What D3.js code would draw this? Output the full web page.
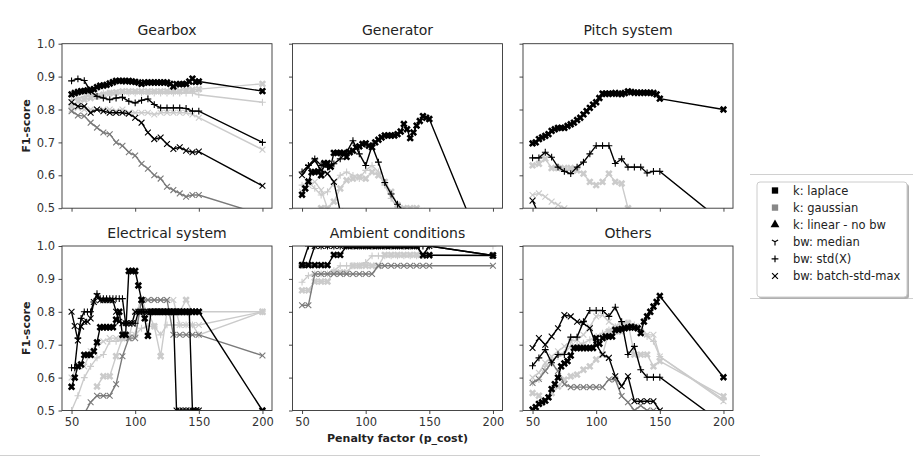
<!DOCTYPE html>
<html><head><meta charset="utf-8">
<script src="https://cdn.jsdelivr.net/npm/d3@7"></script>
<style>body{margin:0;background:#fff;} svg{display:block;font-family:"DejaVu Sans",sans-serif;}</style>
</head><body><svg id="c" width="913" height="462"></svg>
<script>
// ---------- data ----------
const X5 = [50,55,60,65,70,75,80,85,90,95,100,105,110,115,120,125,130,135,140,145,150,200];
const X25 = [50,52.5,55,57.5,60,62.5,65,67.5,70,72.5,75,77.5,80,82.5,85,87.5,90,92.5,95,97.5,100,102.5,105,107.5,110,112.5,115,117.5,120,122.5,125,127.5,130,132.5,135,137.5,140,142.5,145,147.5,150,200];
const categories = ["Gearbox","Generator","Pitch system","Electrical system","Ambient conditions","Others"];
const xTicks = [50,100,150,200];
const yTicks = [0.5,0.6,0.7,0.8,0.9,1.0];
const legendLabels = ["k: laplace","k: gaussian","k: linear - no bw","bw: median","bw: std(X)","bw: batch-std-max"];

// Gearbox
const gearboxLaplace = [0.846,0.85,0.853,0.856,0.856,0.858,0.86,0.862,0.868,0.872,0.873,0.875,0.879,0.883,0.887,0.887,0.887,0.886,0.887,0.885,0.884,0.882,0.878,0.882,0.882,0.882,0.882,0.882,0.882,0.882,0.882,0.878,0.87,0.877,0.877,0.877,0.878,0.885,0.894,0.884,0.885,0.856];
const gearboxBlackStd = [0.887,0.893,0.888,0.855,0.84,0.835,0.83,0.835,0.837,0.825,0.82,0.828,0.832,0.815,0.805,0.805,0.805,0.805,0.803,0.795,0.795,0.70];
const gearboxBlackBatch = [0.822,0.81,0.81,0.79,0.80,0.795,0.79,0.79,0.79,0.787,0.775,0.76,0.73,0.71,0.715,0.695,0.68,0.685,0.675,0.67,0.672,0.568];
const gearboxGrayBatch = [0.795,0.782,0.78,0.76,0.745,0.73,0.725,0.70,0.69,0.67,0.66,0.635,0.62,0.60,0.59,0.565,0.555,0.545,0.535,0.54,0.54,0.48];
const gearboxLightX = [0.81,0.825,0.83,0.835,0.84,0.845,0.85,0.852,0.855,0.855,0.855,0.855,0.855,0.855,0.855,0.855,0.855,0.855,0.858,0.86,0.862,0.878];
const gearboxLightStd = [0.83,0.835,0.84,0.845,0.845,0.85,0.85,0.85,0.85,0.85,0.85,0.85,0.848,0.85,0.85,0.85,0.85,0.85,0.85,0.85,0.845,0.822];
const gearboxLightBatch = [0.80,0.805,0.80,0.80,0.80,0.80,0.80,0.795,0.80,0.79,0.79,0.79,0.79,0.785,0.79,0.79,0.79,0.79,0.79,0.785,0.775,0.678];

// Generator
const generatorLaplace = [0.541,0.56,0.581,0.609,0.61,0.612,0.60,0.637,0.637,0.626,0.668,0.668,0.668,0.668,0.656,0.67,0.675,0.685,0.688,0.695,0.697,0.69,0.685,0.70,0.708,0.715,0.721,0.721,0.721,0.721,0.725,0.733,0.756,0.74,0.713,0.73,0.751,0.765,0.78,0.775,0.771,0.30];
const generatorBlackStd = [0.61,0.63,0.65,0.63,0.625,0.635,0.65,0.67,0.705,0.665,0.63,0.69,0.64,0.578,0.543,0.512,0.49,0.47,0.45,0.43,0.42,0.30];
const generatorBlackBatch = [0.60,0.625,0.645,0.615,0.605,0.58,0.49,0.45,null,null,null,null,null,null,null,null,null,null,null,null,null,null];
const generatorLightX = [null,null,0.48,0.50,0.50,0.52,0.56,0.585,0.59,0.595,0.59,0.61,0.60,0.58,0.55,0.51,0.50,0.50,0.50,0.49,null,null];
const generatorLightStd = [0.57,0.58,0.56,0.54,0.55,0.575,0.60,0.61,0.60,0.59,0.615,0.63,0.61,0.57,0.53,0.50,0.47,null,null,null,null,null];
const generatorLightBatch = [0.55,0.57,0.58,0.555,0.50,0.48,null,null,null,null,null,null,null,null,null,null,null,null,null,null,null,null];

// Pitch system
const pitchLaplace = [0.697,0.70,0.71,0.715,0.72,0.725,0.735,0.74,0.744,0.744,0.744,0.75,0.755,0.76,0.768,0.775,0.785,0.795,0.805,0.815,0.822,0.835,0.848,0.848,0.848,0.848,0.85,0.848,0.847,0.85,0.855,0.853,0.851,0.851,0.851,0.851,0.851,0.851,0.85,0.846,0.833,0.80];
const pitchBlackStd = [0.653,0.653,0.67,0.655,0.625,0.612,0.605,0.625,0.64,0.665,0.69,0.69,0.69,0.636,0.65,0.625,0.625,0.625,0.607,0.612,0.612,0.456];
const pitchBlackBatch = [0.523,0.48,null,null,null,null,null,null,null,null,null,null,null,null,null,null,null,null,null,null,null,null];
const pitchLightX = [0.63,0.635,0.65,0.622,0.622,0.622,0.622,0.615,0.605,0.58,0.57,0.58,0.605,0.58,0.575,0.50,0.45,null,null,null,null,null];
const pitchLightBatch = [0.54,0.545,0.535,0.52,0.51,0.50,0.48,null,null,null,null,null,null,null,null,null,null,null,null,null,null,null];

// Electrical system
const electricalLaplace = [0.572,0.60,0.634,0.64,0.669,0.669,0.669,0.68,0.707,0.753,0.753,0.753,0.753,0.753,0.776,0.80,0.73,0.73,0.924,0.924,0.924,0.88,0.836,0.78,0.727,0.80,0.80,0.80,0.80,0.80,0.80,0.80,0.80,0.80,0.80,0.80,0.80,0.80,0.80,0.80,0.80,0.50];
const electricalBlackStd = [0.63,0.63,0.72,0.78,0.80,0.80,0.80,0.83,0.855,0.84,0.84,0.84,0.84,0.84,0.84,0.84,0.84,0.765,0.765,0.765,0.765,0.80,0.80,0.80,0.80,0.80,0.80,0.80,0.80,0.80,0.80,0.80,0.80,0.80,0.80,0.80,0.80,0.80,0.50,0.50,0.50,null];
const electricalBlackBatch = [0.80,0.757,0.713,0.755,0.77,0.77,0.78,0.83,0.848,0.835,0.835,0.835,0.835,0.835,0.80,0.77,0.765,0.765,0.765,0.765,0.80,0.80,0.80,0.80,0.80,0.80,0.80,0.80,0.80,0.80,0.80,0.80,0.80,0.50,0.50,0.50,0.50,0.50,0.50,0.50,0.50,null];
const electricalGrayBatch = [null,null,0.49,0.525,0.545,0.545,0.545,0.58,0.665,0.72,0.72,0.836,0.836,0.836,0.836,0.836,0.73,0.73,0.73,0.73,0.73,0.667];
const electricalLightX = [null,null,null,null,0.573,0.604,0.604,0.665,0.72,0.72,0.80,0.826,0.80,0.756,0.665,0.80,0.80,0.80,0.836,0.80,0.80,0.80];
const electricalLightStd = [0.50,0.545,0.60,0.634,0.66,0.67,0.71,0.71,0.72,0.73,0.73,0.75,0.756,0.756,0.73,0.76,0.76,0.76,0.76,0.76,0.73,0.80];
const electricalLightBatch = [0.60,0.64,0.634,0.68,0.70,0.71,0.72,0.72,0.72,0.73,0.73,0.836,0.836,0.836,0.836,0.836,0.836,0.76,0.76,0.76,0.76,0.80];

// Ambient conditions
const ambientLaplace = [0.942,0.942,0.942,0.942,0.942,0.973,0.973,1.0,1.0,1.0,1.0,1.0,1.0,1.0,1.0,1.0,1.0,1.0,1.0,0.972,0.972,0.971];
const ambientBlackStd = [0.942,1.0,1.0,1.0,1.0,1.0,1.0,1.0,1.0,1.0,1.0,1.0,1.0,1.0,1.0,1.0,1.0,1.0,1.0,1.0,1.0,0.971];
const ambientBlackBatch = [0.942,0.942,1.0,1.0,1.0,1.0,1.0,1.0,1.0,1.0,1.0,1.0,1.0,1.0,1.0,1.0,1.0,1.0,1.0,0.972,1.0,0.971];
const ambientGrayBatch = [0.82,0.82,0.915,0.915,0.915,0.915,0.915,0.915,0.915,0.915,0.915,0.915,0.94,0.94,0.94,0.94,0.94,0.94,0.94,0.94,0.94,0.94];
const ambientLightX = [0.865,0.865,0.892,0.892,0.892,0.92,0.92,0.92,0.94,0.94,0.94,0.94,0.94,0.973,0.973,0.973,0.973,0.973,0.973,0.973,0.973,0.973];
const ambientLightStd = [0.89,0.91,0.915,0.915,0.915,0.925,0.94,0.94,0.94,0.94,0.95,0.97,0.97,0.97,0.97,0.97,0.97,0.97,0.97,0.97,1.0,1.0];

// Others
const othersLaplace = [0.503,0.51,0.52,0.525,0.53,0.54,0.565,0.58,0.60,0.634,0.643,0.65,0.667,0.69,0.69,0.69,0.69,0.69,0.69,0.69,0.72,0.703,0.72,0.725,0.725,0.725,0.745,0.745,0.748,0.75,0.752,0.755,0.752,0.75,0.735,0.77,0.786,0.80,0.816,0.83,0.848,0.601];
const othersBlackStd = [0.636,0.66,0.685,0.645,0.67,0.67,0.723,0.723,0.77,0.804,0.804,0.804,0.786,0.814,0.77,0.67,0.695,0.624,0.601,0.601,0.601,0.459];
const othersBlackBatch = [0.69,0.72,0.70,0.725,0.75,0.79,0.786,0.77,0.765,0.75,0.70,0.67,0.66,0.604,0.574,0.604,0.528,0.528,0.528,0.528,0.50,null];
const othersGrayBatch = [0.584,0.596,0.62,0.645,0.62,0.58,0.571,0.571,0.571,0.571,0.571,0.571,0.594,0.594,0.544,0.525,0.50,0.515,0.50,0.50,null,null];
const othersLightX = [0.553,0.545,0.53,0.553,0.573,0.594,0.604,0.609,0.624,0.634,0.655,0.67,0.74,0.74,0.74,0.766,0.67,0.67,0.67,0.634,0.65,0.543];
const othersLightBatch = [0.60,0.615,0.645,0.664,0.68,0.695,0.71,0.715,0.73,0.755,0.786,0.79,0.77,0.755,0.755,0.763,0.755,0.755,0.73,0.73,0.664,0.528];
const othersLightStd = [0.584,0.594,0.634,0.655,0.664,0.675,0.695,0.70,0.705,0.715,0.725,0.735,0.745,0.755,0.766,0.766,0.76,0.745,0.725,0.71,0.664,0.533];

// ---------- styles ----------
const BLACK = "#000", GRAY = "#7a7a7a", LIGHT = "#cbcbcb";
const styles = {
  blackX:{c:BLACK,m:"X"}, blackPlus:{c:BLACK,m:"+"}, blackTimes:{c:BLACK,m:"x"},
  grayTimes:{c:GRAY,m:"x"}, lightX:{c:LIGHT,m:"X"}, lightPlus:{c:LIGHT,m:"+"}, lightTimes:{c:LIGHT,m:"x"}
};
const panels = [
  {title:categories[0], series:[["lightTimes",X5,gearboxLightBatch],["lightPlus",X5,gearboxLightStd],["lightX",X5,gearboxLightX],["grayTimes",X5,gearboxGrayBatch],["blackTimes",X5,gearboxBlackBatch],["blackPlus",X5,gearboxBlackStd],["blackX",X25,gearboxLaplace]]},
  {title:categories[1], series:[["lightTimes",X5,generatorLightBatch],["lightPlus",X5,generatorLightStd],["lightX",X5,generatorLightX],["blackTimes",X5,generatorBlackBatch],["blackPlus",X5,generatorBlackStd],["blackX",X25,generatorLaplace]]},
  {title:categories[2], series:[["lightTimes",X5,pitchLightBatch],["lightX",X5,pitchLightX],["blackTimes",X5,pitchBlackBatch],["blackPlus",X5,pitchBlackStd],["blackX",X25,pitchLaplace]]},
  {title:categories[3], series:[["lightTimes",X5,electricalLightBatch],["lightPlus",X5,electricalLightStd],["lightX",X5,electricalLightX],["grayTimes",X5,electricalGrayBatch],["blackTimes",X25,electricalBlackBatch],["blackPlus",X25,electricalBlackStd],["blackX",X25,electricalLaplace]]},
  {title:categories[4], series:[["lightPlus",X5,ambientLightStd],["lightX",X5,ambientLightX],["grayTimes",X5,ambientGrayBatch],["blackTimes",X5,ambientBlackBatch],["blackPlus",X5,ambientBlackStd],["blackX",X5,ambientLaplace]]},
  {title:categories[5], series:[["lightPlus",X5,othersLightStd],["lightTimes",X5,othersLightBatch],["lightX",X5,othersLightX],["grayTimes",X5,othersGrayBatch],["blackTimes",X5,othersBlackBatch],["blackPlus",X5,othersBlackStd],["blackX",X25,othersLaplace]]}
];

// ---------- layout ----------
const svg = d3.select("#c");
const colX = [62, 292.5, 523], rowY = [43.7, 246], PW = 210, PH = 164.5;
const x = d3.scaleLinear().domain([42.5,207.5]).range([0,PW]);
const y = d3.scaleLinear().domain([0.5,1.0]).range([PH,0]);

const markerPath = {
  "X": d3.symbol(d3.symbolCross, 34)(),
  "+": "M-3.4,0H3.4M0,-3.4V3.4",
  "x": "M-2.9,-2.9L2.9,2.9M-2.9,2.9L2.9,-2.9",
  "1": "M0,0V3.6M0,0L-3.1,-1.8M0,0L3.1,-1.8"
};

// page separators
svg.append("line").attr("x1",750).attr("x2",913).attr("y1",174.5).attr("y2",174.5).attr("stroke","#d0d0d0");
svg.append("line").attr("x1",750).attr("x2",913).attr("y1",298.5).attr("y2",298.5).attr("stroke","#d0d0d0");
svg.append("line").attr("x1",0).attr("x2",760).attr("y1",455.5).attr("y2",455.5).attr("stroke","#d0d0d0");

panels.forEach((p,i) => {
  const col = i%3, row = Math.floor(i/3);
  const g = svg.append("g").attr("transform",`translate(${colX[col]},${rowY[row]})`);
  const cid = "clip"+i;
  g.append("clipPath").attr("id",cid).append("rect").attr("width",PW).attr("height",PH);
  const plot = g.append("g").attr("clip-path",`url(#${cid})`);
  p.series.forEach(([key,xs,ys]) => {
    const st = styles[key];
    const pts = xs.map((xv,k)=>[xv,ys[k]]);
    const line = d3.line().defined(d=>d[1]!=null).x(d=>x(d[0])).y(d=>y(d[1]));
    plot.append("path").attr("d",line(pts)).attr("fill","none").attr("stroke",st.c).attr("stroke-width",1.4);
    const mk = plot.append("g");
    pts.filter(d=>d[1]!=null).forEach(d=>{
      const t = `translate(${x(d[0])},${y(d[1])})` + (st.m==="X"?" rotate(45)":"");
      const path = mk.append("path").attr("d",markerPath[st.m]).attr("transform",t);
      if (st.m==="X") path.attr("fill",st.c).attr("stroke","none");
      else path.attr("fill","none").attr("stroke",st.c).attr("stroke-width",1.1);
    });
  });
  // frame
  g.append("rect").attr("width",PW).attr("height",PH).attr("fill","none").attr("stroke","#333").attr("stroke-width",0.9);
  // axes
  const ax = d3.axisBottom(x).tickValues(xTicks).tickSize(3.5).tickPadding(3.5).tickFormat(row===1?d3.format("d"):()=> "");
  const xg = g.append("g").attr("transform",`translate(0,${PH})`).call(ax);
  const ay = d3.axisLeft(y).tickValues(yTicks).tickSize(3.5).tickPadding(3.5).tickFormat(col===0?d3.format(".1f"):()=> "");
  const yg = g.append("g").call(ay);
  [xg,yg].forEach(a=>{
    a.select(".domain").remove();
    a.selectAll(".tick line").attr("stroke","#333").attr("stroke-width",0.9);
    a.selectAll(".tick text").attr("fill","#333").style("font-size","11.5px").style("font-family","DejaVu Sans");
  });
  // title
  g.append("text").attr("x",PW/2).attr("y",-8.5).attr("text-anchor","middle").style("font-size","14px").attr("fill","#222").text(p.title);
  if (col===0) {
    g.append("text").attr("transform",`translate(-32,${PH/2}) rotate(-90)`).attr("text-anchor","middle")
      .style("font-size","11px").style("font-weight","bold").attr("fill","#222").text("F1-score");
  }
});

// x label
svg.append("text").attr("x",colX[1]+PW/2).attr("y",441.5).attr("text-anchor","middle")
  .style("font-size","11px").style("font-weight","bold").attr("fill","#222").text("Penalty factor (p_cost)");

// legend
const lg = svg.append("g").attr("transform","translate(757,182)");
lg.append("rect").attr("x",2).attr("y",2).attr("width",150).attr("height",115).attr("rx",3).attr("fill","#b0b0b0");
lg.append("rect").attr("width",150).attr("height",115).attr("rx",3).attr("fill","#fff").attr("stroke","#ccc");
const legMarks = [
  {d:d3.symbol(d3.symbolSquare,40)(), fill:BLACK},
  {d:d3.symbol(d3.symbolSquare,40)(), fill:"#888"},
  {d:d3.symbol(d3.symbolTriangle,34)(), fill:BLACK},
  {d:markerPath["1"], stroke:BLACK},
  {d:markerPath["+"], stroke:BLACK},
  {d:markerPath["x"], stroke:BLACK}
];
legendLabels.forEach((lab,k)=>{
  const yy = 8.5 + k*17.1;
  const m = legMarks[k];
  const pth = lg.append("path").attr("d",m.d).attr("transform",`translate(18,${yy})`);
  if (m.fill) pth.attr("fill",m.fill); else pth.attr("fill","none").attr("stroke",m.stroke).attr("stroke-width",1.2);
  lg.append("text").attr("x",36).attr("y",yy+4).style("font-size","11.5px").attr("fill","#222").text(lab);
});
</script></body></html>
